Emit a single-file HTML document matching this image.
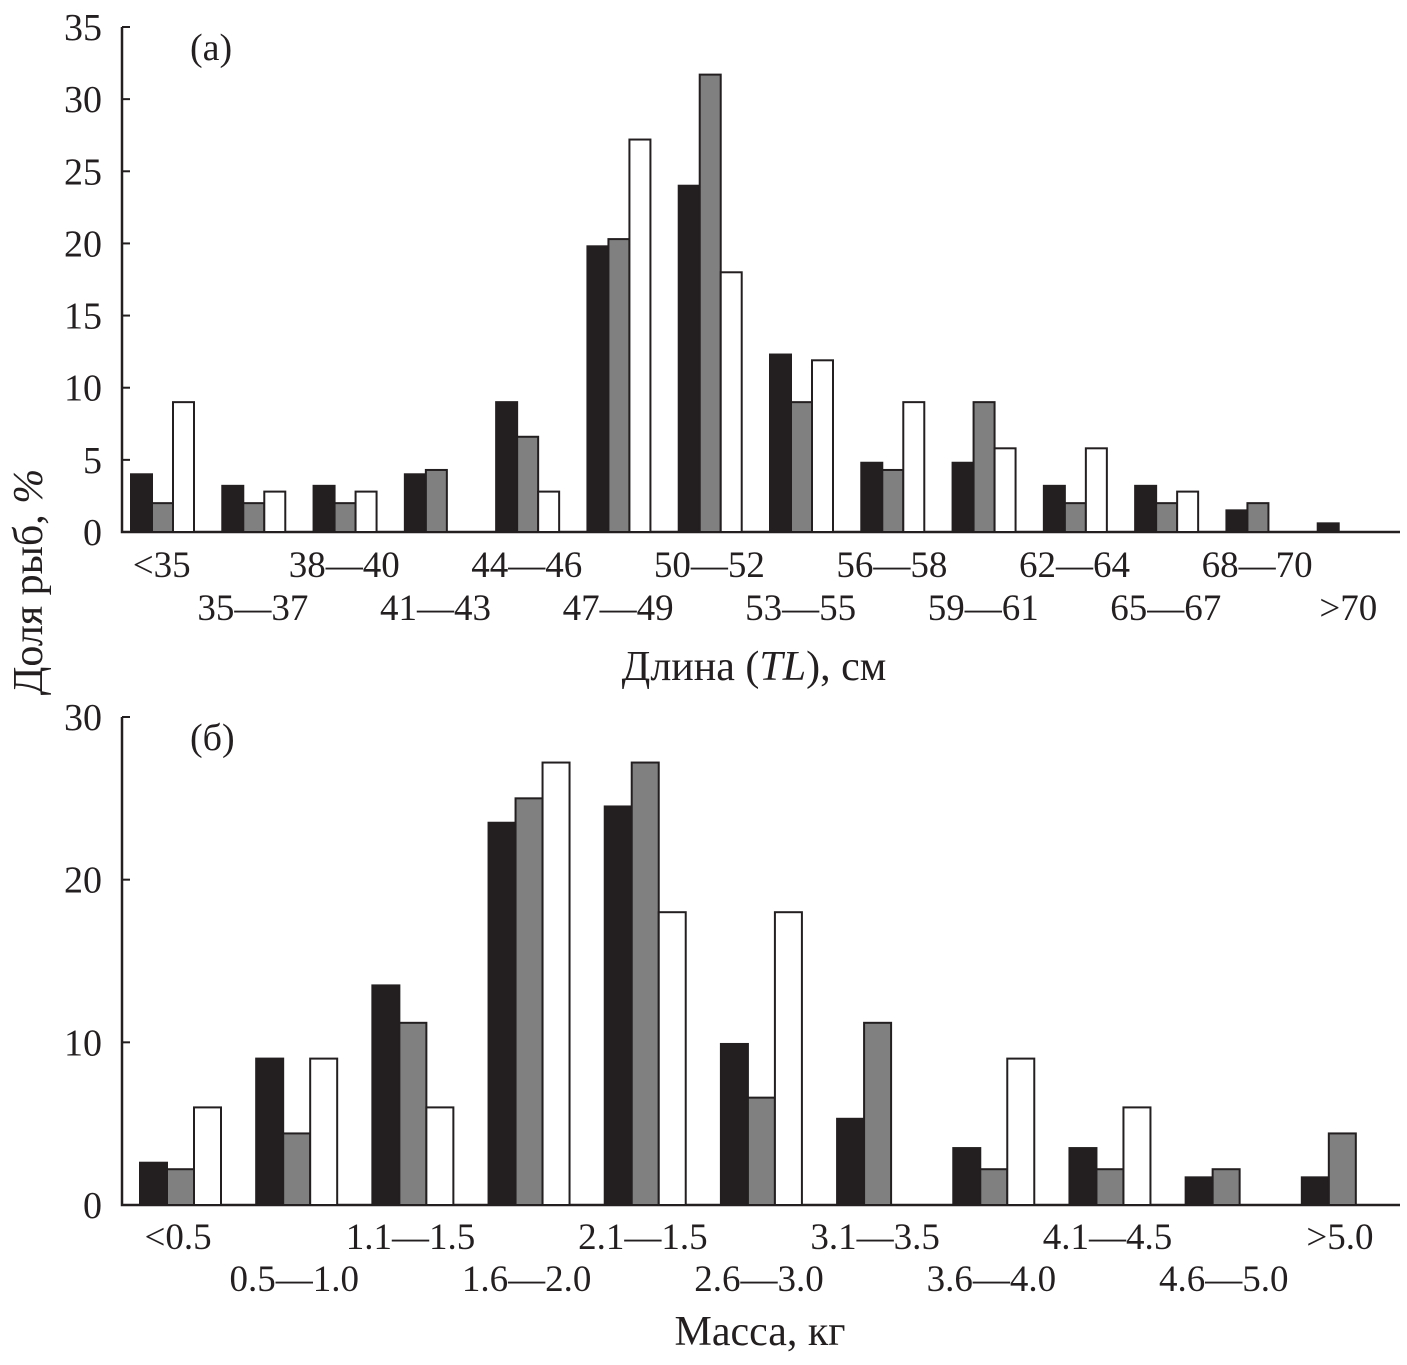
<!DOCTYPE html>
<html><head><meta charset="utf-8"><style>
body{margin:0;background:#fff;}
svg text{font-family:"Liberation Serif",serif;fill:#231f20;}
</style></head><body>
<svg id="c" width="1407" height="1360" xmlns="http://www.w3.org/2000/svg"></svg>
<script>
const catsA=["<35","35—37","38—40","41—43","44—46","47—49","50—52","53—55","56—58","59—61","62—64","65—67","68—70",">70"];
const blackA=[4,3.2,3.2,4,9,19.8,24,12.3,4.8,4.8,3.2,3.2,1.5,0.6];
const grayA=[2,2,2,4.3,6.6,20.3,31.7,9,4.3,9,2,2,2,0];
const whiteA=[9,2.8,2.8,0,2.8,27.2,18,11.9,9,5.8,5.8,2.8,0,0];
const ticksA=[0,5,10,15,20,25,30,35];
const catsB=["<0.5","0.5—1.0","1.1—1.5","1.6—2.0","2.1—1.5","2.6—3.0","3.1—3.5","3.6—4.0","4.1—4.5","4.6—5.0",">5.0"];
const blackB=[2.6,9,13.5,23.5,24.5,9.9,5.3,3.5,3.5,1.7,1.7];
const grayB=[2.2,4.4,11.2,25,27.2,6.6,11.2,2.2,2.2,2.2,4.4];
const whiteB=[6,9,6,27.2,18,18,0,9,6,0,0];
const ticksB=[0,10,20,30];

const svg=document.getElementById('c');
const NS="http://www.w3.org/2000/svg";
function el(t,a,txt){const e=document.createElementNS(NS,t);for(const k in a)e.setAttribute(k,a[k]);if(txt!==undefined)e.textContent=txt;svg.appendChild(e);return e;}

function panel(o){
  const x0=122,x1=1400;
  const y=v=>o.y0-(v/o.max)*(o.y0-o.yTop);
  const gw=(x1-x0)/o.cats.length;
  const ax=el('path',{d:`M${x0} ${o.yTop} V${o.y0} H${x1}`,stroke:'#231f20','stroke-width':2.5,fill:'none'});
  
  
  o.ticks.forEach(t=>{
    const l=el('line',{x1:x0,x2:x0+8,y1:y(t),y2:y(t),stroke:'#231f20','stroke-width':2});
    
    
    const tx=el('text',{x:x0-20,y:y(t)+13,'font-size':38,'text-anchor':'end'},String(t));
    
    
  });
  const series=[[o.black,'#231f20','black'],[o.gray,'#808080','gray'],[o.white,'#ffffff','white']];
  o.cats.forEach((c,i)=>{
    const gx=x0+i*gw+o.off;
    series.forEach((s,j)=>{
      const v=s[0][i]; if(!v)return;
      const r=el('rect',{x:gx+j*o.bw,y:y(v),width:o.bw,height:o.y0-y(v),fill:s[1],stroke:'#231f20','stroke-width':2});
      
      
    });
    const cx=x0+i*gw+gw/2+o.lshift;
    const ly=i%2===0?o.row1:o.row2;
    const t=el('text',{x:cx,y:ly,'font-size':37,'text-anchor':'middle'},c);
    
    
  });
  const pl=el('text',{x:190,y:o.yTop+33,'font-size':38},o.label);
  
  
}
panel({id:'length',cats:catsA,black:blackA,gray:grayA,white:whiteA,ticks:ticksA,max:35,y0:532,yTop:27,off:9,bw:21,row1:577,row2:620,lshift:-6,label:'(а)'});
panel({id:'mass',cats:catsB,black:blackB,gray:grayB,white:whiteB,ticks:ticksB,max:30,y0:1205,yTop:717,off:18,bw:27,row1:1249,row2:1291,lshift:-2,label:'(б)'});

const t1=el('text',{x:754,y:680,'font-size':42,'text-anchor':'middle'});
t1.innerHTML='Длина (<tspan font-style="italic">TL</tspan>), см';


const t2=el('text',{x:760,y:1345,'font-size':42,'text-anchor':'middle'},'Масса, кг');


const t3=el('text',{x:0,y:0,'font-size':42,'text-anchor':'middle',transform:'translate(42,582) rotate(-90)'});
t3.innerHTML='Доля рыб, <tspan font-style="italic">%</tspan>';


</script>
</body></html>
